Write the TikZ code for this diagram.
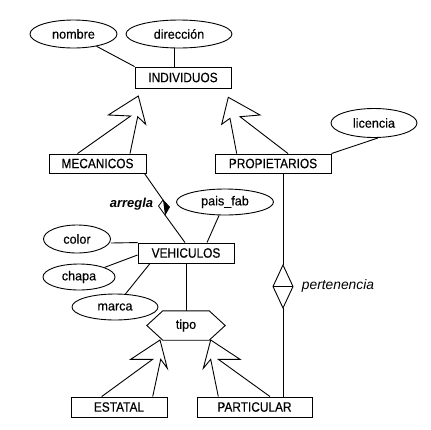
\documentclass[tikz,border=0pt]{standalone}
\usepackage{fontspec}
\setmainfont{Liberation Sans}
\newfontfamily\capsf[FakeStretch=0.88, FakeBold=0.4]{Liberation Sans}
\newfontfamily\lowf[FakeStretch=0.97, FakeBold=0.3]{Liberation Sans}
\usetikzlibrary{calc,shapes.geometric}
\begin{document}
\begin{tikzpicture}[x=1pt,y=-1pt,
  conn/.style={line width=0.9pt, line join=miter},
  ent/.style={draw, line width=0.9pt, rectangle, inner sep=0pt, font=\capsf\fontsize{13.5}{15}\selectfont},
  attr/.style={draw, line width=0.9pt, ellipse, inner sep=0pt, font=\lowf\fontsize{13}{15}\selectfont},
  lbl/.style={inner sep=0pt}]
\useasboundingbox (0,0) rectangle (431,429);
% entities
\node[ent, minimum width=96pt, minimum height=21pt] (ind) at (183,77.5) {INDIVIDUOS};
\node[ent, minimum width=97pt, minimum height=19pt] (mec) at (97.5,163.5) {MECANICOS};
\node[ent, minimum width=116pt, minimum height=19pt] (prop) at (273,163.5) {PROPIETARIOS};
\node[ent, minimum width=96pt, minimum height=20pt] (veh) at (186,253) {VEHICULOS};
\node[ent, minimum width=96pt, minimum height=20pt] (est) at (119,407) {ESTATAL};
\node[ent, minimum width=115pt, minimum height=20pt] (part) at (254.5,407) {PARTICULAR};
% attributes
\node[attr, minimum width=87pt, minimum height=28pt] (nom) at (73.5,34) {nombre};
\node[attr, minimum width=106pt, minimum height=28pt] (dir) at (179,34) {dirección};
\node[attr, minimum width=86pt, minimum height=29pt] (lic) at (374,123) {licencia};
\node[attr, minimum width=97pt, minimum height=26pt] (pais) at (225,202) {pais\_fab};
\node[attr, minimum width=67pt, minimum height=28pt] (col) at (77,239) {color};
\node[attr, minimum width=72pt, minimum height=26pt] (cha) at (79,277) {chapa};
\node[attr, minimum width=86pt, minimum height=26pt] (mar) at (115,307) {marca};
% tipo hexagon
\node[inner sep=0pt, minimum width=78pt, minimum height=29pt, font=\lowf\fontsize{13}{15}\selectfont] (tipo) at (186,325.5) {tipo};
\draw[conn] (tipo.west) -- ($(tipo.north west)+(16,0)$) -- ($(tipo.north east)+(-16,0)$) -- (tipo.east)
  -- ($(tipo.south east)+(-16,0)$) -- ($(tipo.south west)+(16,0)$) -- cycle;
% attribute connectors
\draw[conn] (nom) -- (ind.north west);
\draw[conn] ([xshift=-5pt]dir.south) -- ([xshift=-9pt]ind.north);
\draw[conn] (prop.north east) -- ([xshift=4pt]lic.south);
\draw[conn] ([yshift=-4pt]col.east) -- (veh.north west);
\draw[conn] (cha) -- ([yshift=-2pt]veh.west);
\draw[conn] (mar) -- ([xshift=-36pt]veh.south);
\draw[conn] (pais) -- ([xshift=21pt]veh.north);
\draw[conn] (veh.south) -- (tipo.north);
% ISA arrows
\draw[conn] ([xshift=-20pt]mec.north) -- (130.7,116) -- (108.3,115) -- (138.3,96) -- (145.7,124.3) -- (137.7,116.7) -- ([xshift=32.5pt]mec.north);
\draw[conn] ([xshift=-36.3pt]prop.north) -- (230,118.3) -- (221.7,124.3) -- (228.3,97.3) -- (260,115) -- (240,116.7) -- ([xshift=15pt]prop.north);
\draw[conn] ([xshift=-17.3pt]est.north) -- (152.7,359.3) -- (130.7,359.3) -- (160,340) -- (167.3,368.3) -- (160.7,359.3) -- ([xshift=33.7pt]est.north);
\draw[conn] ([xshift=-36.2pt]part.north) -- (210.7,359.3) -- (203.3,368.3) -- (210.7,340) -- (240,359.3) -- (218.3,359.3) -- ([xshift=15.5pt]part.north);
% arregla relationship
\coordinate (arr) at (164,207.5);
\fill ($(arr)+(-1,-7.5)$) -- ($(arr)+(5.5,-0.5)$) -- ($(arr)+(1,7.5)$) -- (arr) -- cycle;
\draw[line width=0.8pt, line join=miter] ($(arr)+(-1,-7.5)$) -- ($(arr)+(5.5,-0.5)$) -- ($(arr)+(1,7.5)$) -- ($(arr)+(-5.5,-1.5)$) -- cycle;
\draw[conn] ([xshift=-2pt]mec.south east) -- ($(arr)+(-1,-7.5)$);
\draw[conn] ($(arr)+(1,7.5)$) -- ([xshift=-1pt]veh.north);
\node[lbl, font=\fontsize{13}{15}\selectfont\bfseries\itshape] (arrl) at (131.5,204) {arregla};
% pertenencia relationship
\coordinate (pc) at (283,286.5);
\draw[conn] ($(pc)+(0,-21.5)$) -- ($(pc)+(10,0)$) -- ($(pc)+(0,21.5)$) -- ($(pc)+(-10,0)$) -- cycle;
\draw[conn] ($(pc)+(-10,0)$) -- ($(pc)+(10,0)$);
\draw[conn] ([xshift=10pt]prop.south) -- ($(pc)+(0,-21.5)$);
\draw[conn] ($(pc)+(0,21.5)$) -- ([xshift=28.5pt]part.north);
\node[lbl, font=\fontsize{13.8}{16}\selectfont\itshape] (pertl) at (338,285.5) {pertenencia};
\end{tikzpicture}
\end{document}
